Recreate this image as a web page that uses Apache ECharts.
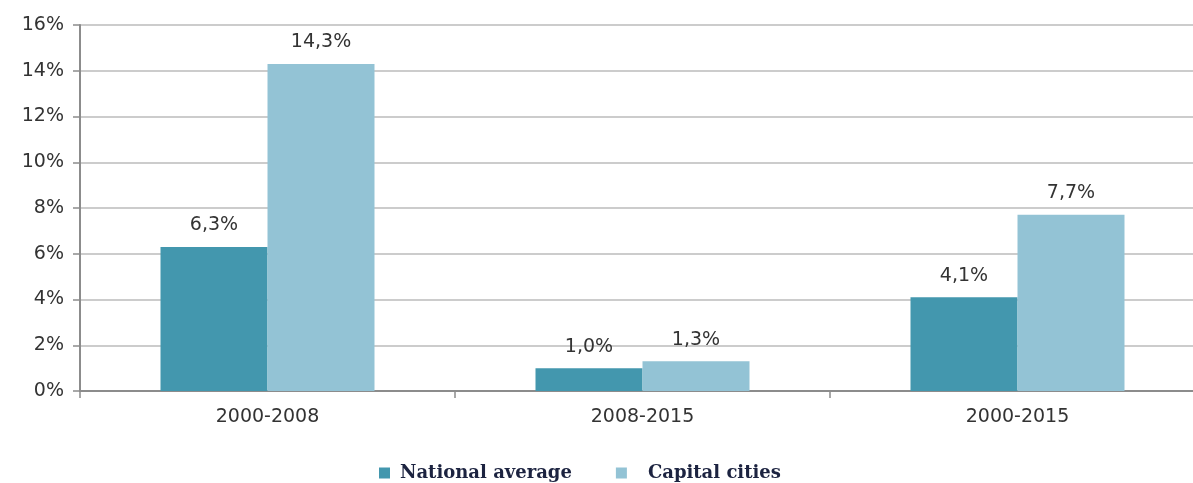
<!DOCTYPE html>
<html>
<head>
<meta charset="utf-8">
<script src="https://cdn.jsdelivr.net/npm/echarts@6/dist/echarts.min.js"></script>
<style>
  html, body { margin: 0; padding: 0; background: #ffffff; overflow: hidden; width: 1193px; height: 483px; }
  /* the canvas is a little wider than the window: the last category runs off the right edge */
  #chart { width: 1205px; height: 483px; }
</style>
</head>
<body>
<div id="chart"></div>
<script>
// Growth periods and their rates (percent)
const periods = ['2000-2008', '2008-2015', '2000-2015'];
const nationalAverage = [6.3, 1.0, 4.1];
const capitalCities = [14.3, 1.3, 7.7];
const seriesNames = ['National average', 'Capital cities'];

const fmtPct = v => v.toFixed(1).replace('.', ',') + '%';
const textColor = '#333333';
const sansFont = '"DejaVu Sans", Verdana, sans-serif';

const chart = echarts.init(document.getElementById('chart'));

const labelStyle = {
  show: true,
  position: 'top',
  distance: 12,
  color: textColor,
  fontFamily: sansFont,
  fontSize: 19,
  formatter: p => fmtPct(p.value)
};

chart.setOption({
  animation: false,
  grid: { left: 80, right: 0, top: 25, height: 366, containLabel: false },
  legend: {
    top: 459,
    left: 374,
    itemWidth: 11,
    itemHeight: 11,
    itemGap: 44,
    icon: 'rect',
    textStyle: {
      fontFamily: '"DejaVu Serif", "Liberation Serif", serif',
      fontSize: 18,
      fontWeight: 'bold',
      color: '#1c2340'
    },
    data: [
      { name: seriesNames[0], textStyle: { padding: [0, 0, 0, 5] } },
      { name: seriesNames[1], textStyle: { padding: [0, 0, 0, 16] } }
    ]
  },
  xAxis: {
    type: 'category',
    data: periods,
    axisLine: { lineStyle: { color: '#8c8c8c', width: 2 } },
    axisTick: { show: true, alignWithLabel: false, length: 7, lineStyle: { color: '#8c8c8c', width: 1.5 } },
    axisLabel: { color: textColor, fontFamily: sansFont, fontSize: 19, margin: 17 }
  },
  yAxis: {
    type: 'value',
    min: 0,
    max: 16,
    interval: 2,
    axisLine: { show: true, lineStyle: { color: '#8c8c8c', width: 2 } },
    axisTick: { show: true, length: 7, lineStyle: { color: '#8c8c8c', width: 1.5 } },
    axisLabel: { color: textColor, fontFamily: sansFont, fontSize: 19, margin: 16, formatter: v => v + '%' },
    splitLine: { lineStyle: { color: '#cccccc', width: 2 } }
  },
  series: [
    {
      name: seriesNames[0],
      type: 'bar',
      data: nationalAverage,
      barWidth: 107,
      barGap: '0%',
      itemStyle: { color: '#4397ae' },
      label: labelStyle
    },
    {
      name: seriesNames[1],
      type: 'bar',
      data: capitalCities,
      barWidth: 107,
      barGap: '0%',
      itemStyle: { color: '#93c3d5' },
      label: labelStyle
    }
  ]
});
</script>
</body>
</html>
